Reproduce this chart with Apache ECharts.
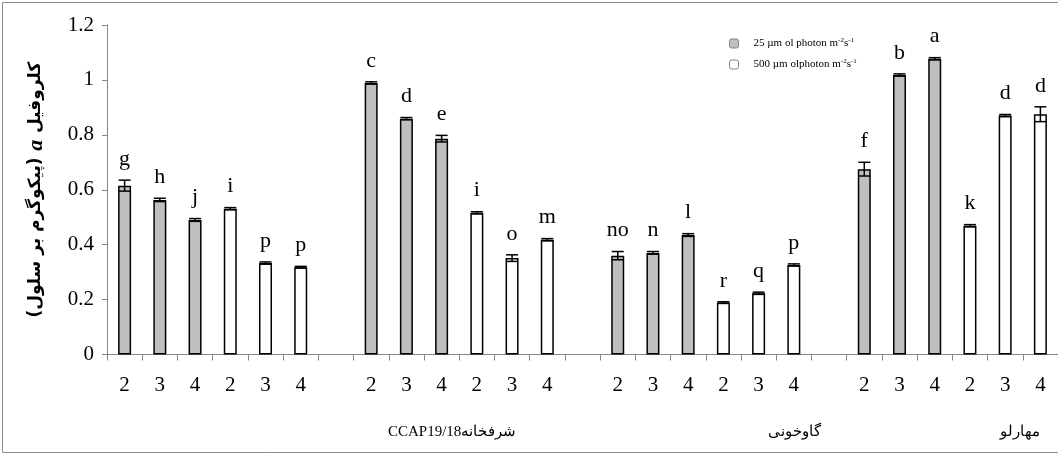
<!DOCTYPE html>
<html>
<head>
<meta charset="utf-8">
<script src="https://cdn.jsdelivr.net/npm/echarts@6/dist/echarts.min.js"></script>
<style>html,body{margin:0;padding:0;background:#fff}#c{width:1058px;height:456px}</style>
</head>
<body>
<div id="c"></div>
<script>
const tickLabels = ['2','3','4','2','3','4','', '2','3','4','2','3','4','', '2','3','4','2','3','4','', '2','3','4','2','3','4'];
const low25 = [0.615,0.563,0.490,null,null,null,null, 0.989,0.859,0.786,null,null,null,null, 0.360,0.370,0.435,null,null,null,null, 0.675,1.018,1.077,null,null,null];
const high500 = [null,null,null,0.531,0.333,0.318,null, null,null,null,0.516,0.351,0.418,null, null,null,null,0.189,0.223,0.326,null, null,null,null,0.469,0.870,0.875];
const errs = [0.020,0.006,0.005,0.004,0.004,0.003,null, 0.004,0.004,0.012,0.004,0.012,0.004,null, 0.015,0.005,0.005,0.003,0.004,0.004,null, 0.025,0.004,0.004,0.004,0.004,0.027];
const letters = ['g','h','j','i','p','p','', 'c','d','e','i','o','m','', 'no','n','l','r','q','p','', 'f','b','a','k','d','d'];
const groupNames = ['CCAP19/18شرفخانه','گاوخونی','مهارلو'];
const seriesNames = ['25 µm ol photon m-2s-1','500 µm olphoton m-2s-1'];

const serif = '"Liberation Serif", "Times New Roman", serif';
const errData = [];
tickLabels.forEach((t, i) => {
  const v = low25[i] != null ? low25[i] : high500[i];
  if (v != null) errData.push([i, v, errs[i], letters[i]]);
});

const chart = echarts.init(document.getElementById('c'));
chart.setOption({
  animation: false,
  grid: {left: 107, right: -3, top: 25, bottom: 101.5, containLabel: false},
  legend: {
    orient: 'vertical', left: 724, top: 32, itemWidth: 9, itemHeight: 9, itemGap: 9,
    data: [
      {name: seriesNames[0], itemStyle: {color: '#c0c0c0', borderColor: '#808080', borderWidth: 1}},
      {name: seriesNames[1], itemStyle: {color: '#fff', borderColor: '#808080', borderWidth: 1}}
    ],
    formatter: function (n) {
      const p = n.split('m-2s-1');
      return '{f|' + p[0] + 'm}{s|-2}{n|s}{s|-1}';
    },
    textStyle: {
      fontFamily: serif, fontSize: 11, color: '#000',
      rich: {
        f: {fontFamily: serif, fontSize: 11, color: '#000', padding: [0, 0, 0, 10]},
        n: {fontFamily: serif, fontSize: 11, color: '#000'},
        s: {fontFamily: serif, fontSize: 7, color: '#000', padding: [0, 0, 6, 0]}
      }
    }
  },
  xAxis: {
    type: 'category', data: tickLabels,
    axisLine: {lineStyle: {color: '#868686', width: 1}},
    axisTick: {show: true, interval: 0, length: 6, lineStyle: {color: '#868686'}},
    axisLabel: {interval: 0, fontFamily: serif, fontSize: 21, color: '#000', margin: 20}
  },
  yAxis: {
    type: 'value', min: 0, max: 1.2, interval: 0.2,
    splitLine: {show: false},
    axisLine: {show: true, lineStyle: {color: '#868686', width: 1}},
    axisTick: {show: true, length: 5, lineStyle: {color: '#868686'}},
    axisLabel: {fontFamily: serif, fontSize: 21, color: '#000', margin: 13},
    name: '{p|(پیکوگرم بر سلول)}  {a|a}  {p|کلروفیل}',
    nameLocation: 'middle', nameRotate: 90, nameGap: 60,
    nameTextStyle: {
      rich: {
        p: {fontFamily: '"DejaVu Sans", sans-serif', fontWeight: 'bold', fontSize: 17, color: '#000'},
        a: {fontFamily: serif, fontStyle: 'italic', fontWeight: 'bold', fontSize: 22, color: '#000'}
      }
    }
  },
  series: [
    {name: seriesNames[0], type: 'bar', data: low25, barWidth: 13, barGap: '-100%',
     itemStyle: {color: '#bfbfbf', borderColor: '#000', borderWidth: 1.5}},
    {name: seriesNames[1], type: 'bar', data: high500, barWidth: 13, barGap: '-100%',
     itemStyle: {color: '#fff', borderColor: '#000', borderWidth: 1.5}},
    {type: 'custom', data: errData, z: 10,
     renderItem: function (params, api) {
       const x = api.value(0), v = api.value(1), e = api.value(2);
       const top = api.coord([x, v + e]), bot = api.coord([x, v - e]);
       const cx = top[0], hw = 6;
       return {type: 'group', children: [
         {type: 'line', shape: {x1: cx, y1: top[1], x2: cx, y2: bot[1]}, style: {stroke: '#000', lineWidth: 1.5}},
         {type: 'line', shape: {x1: cx - hw, y1: top[1], x2: cx + hw, y2: top[1]}, style: {stroke: '#000', lineWidth: 1.5}},
         {type: 'line', shape: {x1: cx - hw, y1: bot[1], x2: cx + hw, y2: bot[1]}, style: {stroke: '#000', lineWidth: 1.5}},
         {type: 'text', x: cx, y: top[1] - 10, style: {text: api.value(3), fill: '#000', font: '22px ' + serif, align: 'center', verticalAlign: 'bottom'}}
       ]};
     }}
  ],
  graphic: [
    {type: 'rect', shape: {x: 2.5, y: 2.5, width: 1062, height: 450}, style: {fill: 'none', stroke: '#8c8c8c', lineWidth: 1}, silent: true},
    {type: 'text', left: 388, top: 425, style: {text: groupNames[0], font: '15px ' + serif, fill: '#000'}},
    {type: 'text', left: 768, top: 425, style: {text: groupNames[1], font: '15px ' + serif, fill: '#000'}},
    {type: 'text', left: 1000, top: 425, style: {text: groupNames[2], font: '15px ' + serif, fill: '#000'}}
  ]
});
</script>
</body>
</html>
